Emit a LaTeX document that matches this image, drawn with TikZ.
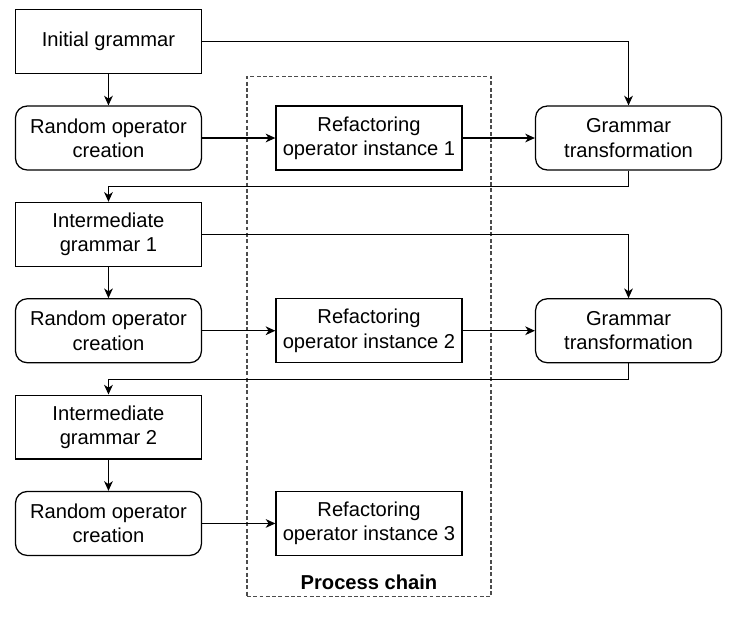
\documentclass[tikz,border=0pt]{standalone}
\usepackage{fontspec}
\setmainfont{Liberation Sans}
\usetikzlibrary{arrows.meta}
\begin{document}
\begin{tikzpicture}[x=1pt,y=-1pt,
  every node/.style={font=\fontsize{20.8}{25}\selectfont, align=center, inner sep=0pt},
  box/.style={draw=black, line width=1.3pt, minimum width=192pt, minimum height=66pt},
  rbox/.style={box, rounded corners=12pt},
  arr/.style={draw=black, line width=1.3pt, -{Stealth[length=10pt,width=9pt,inset=3pt]}},
  chainbox/.style={draw=black!70, line width=1.2pt, dash pattern=on 4pt off 2.5pt, minimum width=252pt, minimum height=537pt}
]
\useasboundingbox (0,0) rectangle (761,641);
\node[chainbox] (chain) at (381,347.5) {};
\node[font=\fontsize{20.8}{25}\selectfont\bfseries] (chainlabel) at (381,601) {Process chain};

\node[box]  (ig)   at (112,43)    {Initial grammar};
\node[rbox] (roc1) at (112,142.5) {Random operator\\creation};
\node[box]  (ref1) at (381,142.5) {Refactoring\\operator instance 1};
\node[rbox] (gt1)  at (649,142.5) {Grammar\\transformation};
\node[box]  (int1) at (112,242)   {Intermediate\\grammar 1};
\node[rbox] (roc2) at (112,341.5) {Random operator\\creation};
\node[box]  (ref2) at (381,341.5) {Refactoring\\operator instance 2};
\node[rbox] (gt2)  at (649,341.5) {Grammar\\transformation};
\node[box]  (int2) at (112,441)   {Intermediate\\grammar 2};
\node[rbox] (roc3) at (112,540.5) {Random operator\\creation};
\node[box]  (ref3) at (381,540.5) {Refactoring\\operator instance 3};

\draw[arr] (ig.east) -| (gt1.north);
\draw[arr] (ig.south) -- (roc1.north);
\draw[arr] (roc1.east) -- (ref1.west);
\draw[arr] (ref1.east) -- (gt1.west);
\draw[arr] (gt1.south) -- ++(0,16.5) -| (int1.north);
\draw[arr] (int1.east) -| (gt2.north);
\draw[arr] (int1.south) -- (roc2.north);
\draw[arr] (roc2.east) -- (ref2.west);
\draw[arr] (ref2.east) -- (gt2.west);
\draw[arr] (gt2.south) -- ++(0,16.5) -| (int2.north);
\draw[arr] (int2.south) -- (roc3.north);
\draw[arr] (roc3.east) -- (ref3.west);
\end{tikzpicture}
\end{document}
